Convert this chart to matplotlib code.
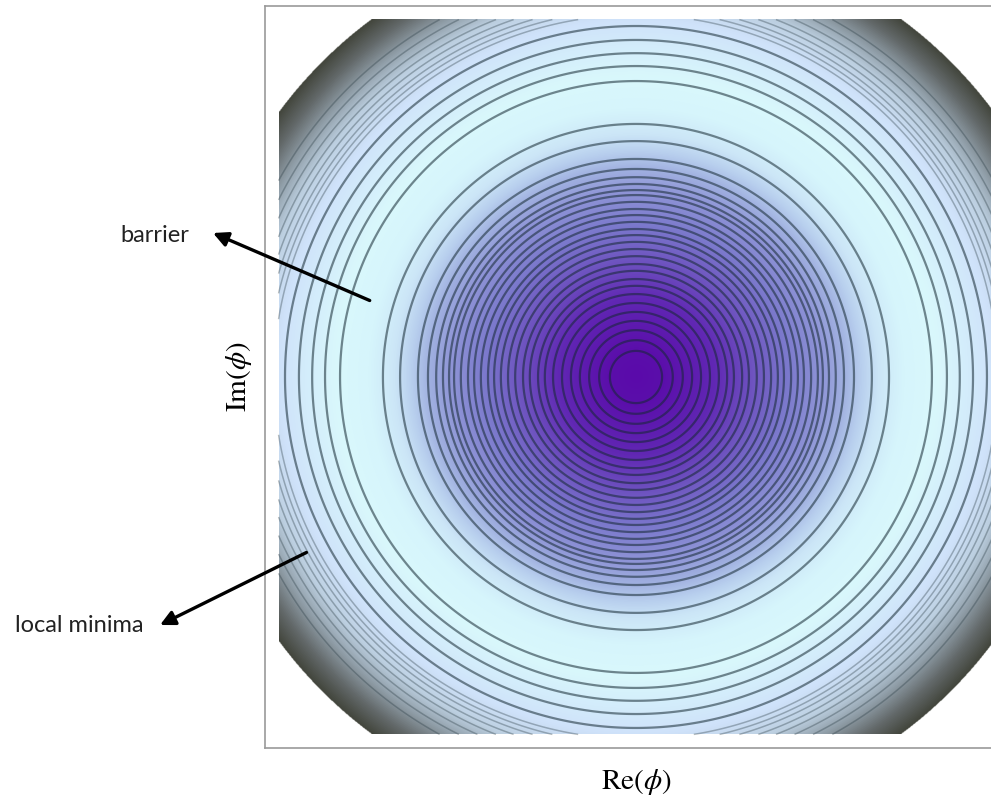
import numpy as np
import matplotlib
matplotlib.use("Agg")
import matplotlib.pyplot as plt
from matplotlib.colors import LinearSegmentedColormap

plt.rcParams["mathtext.fontset"] = "stix"

# radii of the drawn contour rings, in units of the half-width of the field
ring_radius = [0.073, 0.103, 0.131, 0.157, 0.182, 0.207, 0.232, 0.255, 0.274,
               0.297, 0.316, 0.338, 0.358, 0.378, 0.397, 0.414, 0.434, 0.453,
               0.470, 0.490, 0.509, 0.523, 0.540, 0.559, 0.582, 0.610, 0.660,
               0.708, 0.828, 0.870, 0.906, 0.943, 0.982]
# rings that only show up in the corners, where the potential drops steeply
corner_radius = [1.013, 1.027, 1.041, 1.057, 1.074, 1.094, 1.116, 1.141]
# colour of the shading as a function of |phi|
shade_radius = [0.0, 0.08, 0.22, 0.30, 0.42, 0.52, 0.58, 0.63, 0.68, 0.75,
                0.84, 0.93, 1.00, 1.07, 1.13, 1.19, 1.245]
shade_color = ["#5a0aaa", "#5b0fab", "#6128b4", "#6b4abd", "#7b78cc", "#8f95d7",
               "#a0b0e0", "#b8cfee", "#cce6f7", "#d6f5fc", "#d9f8fc", "#d3ecfb",
               "#cfe2fa", "#bccfe0", "#909ea8", "#63696a", "#43463d"]
r_cut = 1.245                     # field is only evaluated inside this radius
labels = ["barrier", "local minima"]

x = np.linspace(-1, 1, 1400)
X, Y = np.meshgrid(x, x)
R = np.hypot(X, Y)
Rm = np.ma.masked_where(R > r_cut, R)

cmap = LinearSegmentedColormap.from_list(
    "pot", list(zip(np.array(shade_radius) / r_cut, shade_color)))
cmap.set_bad("white")

fig = plt.figure(figsize=(9.91, 8.07), dpi=100)
ax = fig.add_axes([0.2674, 0.0731, 0.7487, 0.9195])
ax.imshow(Rm, cmap=cmap, vmin=0, vmax=r_cut, extent=(-1, 1, -1, 1),
          origin="lower", interpolation="bilinear")
ax.contour(X, Y, Rm, levels=ring_radius, colors="#142832", alpha=0.55,
           linewidths=1.6)
ax.contour(X, Y, Rm, levels=corner_radius, colors="#2a3c44", alpha=0.35,
           linewidths=1.1)
ax.set_xlim(-1.038, 1.038); ax.set_ylim(-1.038, 1.038)
ax.set_xticks([]); ax.set_yticks([])
for s in ax.spines.values():
    s.set_color("#9a9a9a"); s.set_linewidth(1.2)
ax.set_xlabel(r"$\mathrm{Re}(\phi)$", fontsize=21, labelpad=14)
ax.set_ylabel(r"$\mathrm{Im}(\phi)$", fontsize=21, labelpad=8)

# annotations: arrows start inside the field and point out to the labels
arrow = dict(arrowstyle="-|>", color="black", lw=2.4, mutation_scale=22,
             shrinkA=0, shrinkB=0)
ax.annotate("", xy=(213, 574), xycoords="figure pixels",
            xytext=(-0.745, 0.214), textcoords="data",
            arrowprops=arrow, annotation_clip=False)
ax.annotate("", xy=(160, 182), xycoords="figure pixels",
            xytext=(-0.922, -0.491), textcoords="data",
            arrowprops=arrow, annotation_clip=False)
fig.text(120 / 991, 0.7076, labels[0], fontsize=17, family="Lato",
         ha="left", va="center", color="#222222")
fig.text(15 / 991, 0.2243, labels[1], fontsize=17, family="Lato",
         ha="left", va="center", color="#222222")

fig.savefig("out.png", dpi=100)
